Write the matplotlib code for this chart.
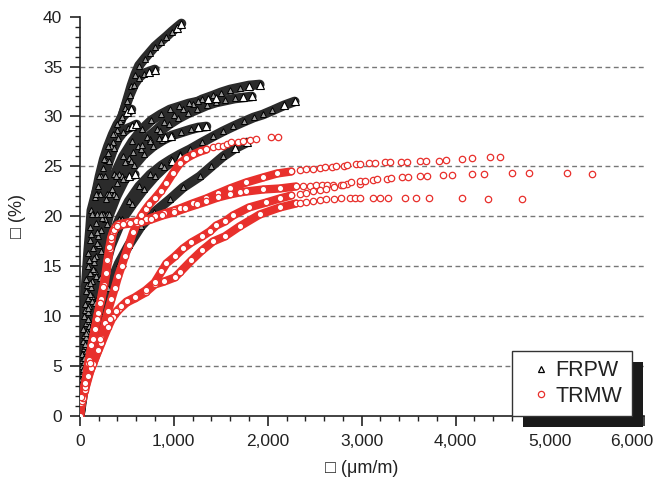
import matplotlib
matplotlib.use("Agg")
import matplotlib.pyplot as plt
from matplotlib.lines import Line2D
from matplotlib.patches import Rectangle
from matplotlib.ticker import FuncFormatter, MultipleLocator
from matplotlib.transforms import IdentityTransform, ScaledTranslation

# FRPW curves (strain, %), each ends with its last triangle
f1_x = [0, 5, 15, 26, 38, 52, 69, 88, 111, 124, 160, 195, 250, 300, 350, 400, 443, 500, 550, 590, 631, 690, 745, 800, 860, 922, 980, 1030, 1082]
f1_y = [0, 1.2, 3.7, 6.2, 8.7, 11.2, 13.7, 16.3, 18.9, 20.6, 21.9, 23.0, 24.8, 26.3, 27.4, 28.6, 29.7, 31.5, 33.1, 34.2, 35.1, 35.8, 36.4, 37.0, 37.5, 38.0, 38.5, 38.9, 39.3]
f2_x = [0, 3, 15, 29, 44, 59, 77, 97, 122, 145, 185, 230, 280, 330, 380, 430, 480, 530, 580, 630, 680, 740, 798]
f2_y = [0, 0.6, 3.1, 5.6, 8.1, 10.6, 13.1, 15.6, 18.2, 20.2, 22.2, 24.0, 25.6, 27.0, 28.2, 29.5, 30.8, 32.1, 33.2, 33.9, 34.3, 34.5, 34.7]
f3_x = [0, 11, 26, 43, 62, 84, 108, 136, 168, 180, 220, 265, 310, 360, 410, 460, 510, 560, 603]
f3_y = [0, 1.8, 4.3, 6.8, 9.3, 11.8, 14.3, 16.8, 19.3, 20.2, 22.2, 24.0, 25.5, 26.8, 27.8, 28.4, 28.8, 29.0, 29.2]
f4_x = [0, 10, 22, 36, 50, 66, 85, 108, 135, 170, 210, 255, 300, 350, 400, 450, 500, 550]
f4_y = [0, 2.5, 5, 7.5, 10, 12.5, 15, 17.6, 20.2, 22.2, 24.0, 25.7, 27.0, 28.2, 29.2, 29.9, 30.4, 30.7]
m1_x = [0, 8, 29, 51, 75, 102, 134, 173, 222, 260, 330, 420, 520, 620, 720, 820, 900, 1000, 1100, 1200, 1300, 1418, 1500, 1600, 1700, 1800, 1915]
m1_y = [0, 1.0, 3.5, 6.0, 8.5, 11.0, 13.5, 16.0, 18.6, 20.2, 22.2, 24.2, 25.8, 27.0, 27.9, 28.7, 29.4, 30.1, 30.7, 31.2, 31.7, 32.1, 32.4, 32.7, 32.9, 33.1, 33.2]
m2_x = [0, 18, 41, 67, 94, 126, 162, 210, 272, 285, 360, 450, 550, 650, 750, 850, 950, 1050, 1150, 1250, 1350, 1450, 1550, 1650, 1740, 1830]
m2_y = [0, 2.0, 4.5, 7.0, 9.5, 12.0, 14.5, 17.1, 19.7, 20.2, 22.2, 24.0, 25.5, 26.7, 27.7, 28.5, 29.2, 29.8, 30.3, 30.7, 31.1, 31.4, 31.6, 31.8, 31.9, 32.0]
m3_x = [0, 3, 21, 42, 64, 88, 117, 151, 192, 235, 295, 370, 460, 560, 660, 760, 860, 960, 1060, 1160, 1260, 1360, 1450]
m3_y = [0, 0.4, 2.9, 5.4, 7.9, 10.4, 12.9, 15.4, 18.0, 20.2, 22.2, 24.2, 26.0, 27.5, 28.7, 29.6, 30.2, 30.7, 31.0, 31.3, 31.5, 31.7, 31.8]
m4_x = [0, 15, 41, 69, 99, 134, 173, 223, 288, 315, 390, 480, 580, 680, 780, 880, 980, 1080, 1180, 1260, 1348]
m4_y = [0, 1.5, 4.0, 6.5, 9.0, 11.5, 14.0, 16.5, 19.2, 20.2, 22.0, 23.7, 25.1, 26.2, 27.0, 27.6, 28.1, 28.4, 28.7, 28.9, 29.0]
m5_x = [0, 18, 38, 60, 83, 110, 143, 184, 236, 245, 310, 390, 480, 570, 660, 750, 840, 910, 975]
m5_y = [0, 2.2, 4.7, 7.2, 9.7, 12.2, 14.7, 17.3, 19.8, 20.2, 22.2, 24.0, 25.4, 26.4, 27.1, 27.5, 27.8, 27.9, 28.0]
m6_x = [0, 6, 24, 42, 63, 86, 114, 147, 189, 225, 280, 340, 400, 460, 520, 585]
m6_y = [0, 0.8, 3.3, 5.8, 8.3, 10.8, 13.3, 15.8, 18.4, 20.2, 21.7, 22.7, 23.3, 23.7, 24.0, 24.2]
l1_x = [0, 16, 47, 81, 120, 166, 221, 288, 375, 420, 520, 630, 750, 870, 970, 1064, 1170, 1300, 1418, 1520, 1631, 1750, 1850, 1950, 2050, 2170, 2287]
l1_y = [0, 1.3, 3.8, 6.3, 8.8, 11.3, 13.8, 16.3, 18.7, 19.7, 21.5, 23.0, 24.2, 25.1, 25.7, 26.2, 26.7, 27.4, 28.0, 28.5, 29.0, 29.5, 29.9, 30.2, 30.6, 31.1, 31.5]
l2_x = [0, 5, 45, 92, 148, 215, 303, 415, 520, 650, 790, 957, 1100, 1277, 1400, 1525, 1650, 1777]
l2_y = [0, 0.3, 2.8, 5.3, 7.8, 10.3, 12.8, 15.3, 17.1, 19.0, 20.4, 21.7, 22.9, 24.0, 25.0, 26.0, 26.8, 27.4]
l3_x = [0, 24, 60, 98, 140, 192, 255, 330, 428, 450, 560, 680, 800, 900, 980, 1064]
l3_y = [0, 1.9, 4.4, 6.9, 9.4, 11.9, 14.4, 17.0, 19.2, 19.7, 21.2, 22.7, 24.0, 24.9, 25.5, 26.0]

# TRMW curves: dense part, then the sparse tail
r1_x = [0, 18, 53, 89, 140, 195, 230, 266, 300, 337, 372, 408, 445, 479, 520, 567, 610, 656, 700, 740, 798, 860, 922, 990, 1064, 1130, 1206, 1280, 1348]
r1_y = [0, 1.3, 2.6, 4.0, 5.2, 6.6, 7.8, 9.3, 10.5, 11.7, 12.8, 14.0, 15.0, 16.0, 17.1, 18.4, 19.3, 20.1, 20.7, 21.2, 21.8, 22.5, 23.3, 24.3, 25.3, 25.8, 26.2, 26.5, 26.7]
r1_tail_x = [1418, 1470, 1525, 1570, 1613, 1680, 1738, 1809, 1879, 2039, 2110]
r1_tail_y = [26.9, 27.0, 27.0, 27.2, 27.4, 27.4, 27.5, 27.6, 27.7, 27.9, 27.9]
r2_x = [0, 18, 53, 89, 125, 160, 195, 230, 260, 284, 300, 319, 337, 355, 380, 408, 460, 514, 600, 709, 800, 900, 1000, 1064, 1200, 1348, 1470, 1596, 1770, 1950, 2100, 2250]
r2_y = [0, 1.3, 2.9, 5.3, 7.1, 8.7, 10.3, 11.7, 13.1, 14.4, 15.5, 16.7, 17.6, 18.4, 18.9, 19.2, 19.3, 19.4, 19.5, 19.7, 20.0, 20.3, 20.6, 20.8, 21.3, 21.8, 22.3, 22.8, 23.4, 23.9, 24.3, 24.5]
r2_tail_x = [2340, 2411, 2482, 2553, 2606, 2688, 2723, 2809, 2848, 2936, 2986, 3078, 3138, 3245, 3305, 3422, 3482, 3617, 3681, 3823, 3901, 4071, 4170, 4369, 4475]
r2_tail_y = [24.65, 24.72, 24.78, 24.85, 24.92, 24.98, 25.02, 25.08, 25.12, 25.22, 25.22, 25.32, 25.35, 25.42, 25.42, 25.45, 25.48, 25.52, 25.55, 25.58, 25.62, 25.72, 25.82, 25.92, 25.92]
r3_x = [0, 20, 60, 100, 140, 180, 215, 250, 275, 295, 315, 335, 360, 400, 460, 540, 650, 760, 880, 1000, 1120, 1250, 1348, 1470, 1596, 1700, 1773, 1950, 2128, 2300]
r3_y = [0, 1.5, 3.3, 5.6, 7.7, 9.7, 11.3, 12.9, 14.3, 15.6, 16.9, 17.9, 18.6, 19.0, 19.2, 19.3, 19.4, 19.7, 20.1, 20.4, 20.8, 21.2, 21.5, 21.9, 22.2, 22.4, 22.5, 22.7, 22.8, 23.0]
r3_tail_x = [2380, 2450, 2518, 2580, 2630, 2700, 2777, 2848, 2986]
r3_tail_y = [23.05, 23.05, 23.1, 23.1, 23.1, 23.1, 23.15, 23.2, 23.2]
r4_x = [0, 30, 120, 230, 300, 350, 420, 500, 585, 700, 798, 900, 1011, 1064, 1188, 1300, 1418, 1543, 1700, 1915, 2128, 2300]
r4_y = [0, 1.8, 4.8, 7.3, 8.9, 9.9, 10.7, 11.4, 11.8, 12.4, 13.2, 13.5, 13.9, 14.4, 15.6, 16.6, 17.5, 18.0, 19.0, 20.2, 20.9, 21.3]
r4_tail_x = [2340, 2411, 2482, 2553, 2624, 2705, 2777, 2872, 2926, 2986, 3120, 3199, 3280, 3465, 3582, 3713, 4071, 4340, 4709]
r4_tail_y = [21.32, 21.48, 21.58, 21.65, 21.72, 21.75, 21.82, 21.85, 21.85, 21.85, 21.88, 21.88, 21.88, 21.88, 21.88, 21.85, 21.82, 21.78, 21.72]
r5_x = [0, 18, 106, 213, 319, 390, 443, 500, 585, 700, 798, 870, 922, 1011, 1100, 1188, 1300, 1383, 1454, 1543, 1631, 1800, 1986, 2128, 2250]
r5_y = [0, 1.9, 5.3, 7.7, 9.7, 10.5, 11.0, 11.5, 11.9, 12.6, 13.4, 14.5, 15.3, 16.0, 16.8, 17.4, 18.0, 18.5, 19.1, 19.5, 20.1, 20.9, 21.4, 21.8, 22.1]
r5_tail_x = [2340, 2411, 2482, 2553, 2624, 2705, 2800, 2890, 2979, 3032, 3120, 3163, 3269, 3316, 3433, 3493, 3617, 3695, 3865, 3957, 4174, 4301, 4599, 4777, 5181, 5450]
r5_tail_y = [22.2, 22.35, 22.5, 22.6, 22.75, 22.9, 23.15, 23.42, 23.55, 23.58, 23.65, 23.72, 23.78, 23.82, 23.95, 23.98, 24.05, 24.08, 24.15, 24.18, 24.28, 24.28, 24.32, 24.32, 24.32, 24.28]

x_ticks = [0, 1000, 2000, 3000, 4000, 5000, 6000]
y_ticks = [0, 5, 10, 15, 20, 25, 30, 35, 40]
grid_levels = [5, 10, 15, 20, 25, 30, 35]
x_label = "\u25a1 (\u03bcm/m)"
y_label = "\u25a1 (%)"
legend_labels = ["FRPW", "TRMW"]

BLACK = "#2b2b2b"
RED = "#e8302c"
FONT = ["Liberation Sans", "DejaVu Sans"]

plt.rcParams["font.family"] = FONT

fig = plt.figure(figsize=(6.54, 4.84), dpi=100)
ax = fig.add_axes([0.1219, 0.1395, 0.8623, 0.8264])

for y in grid_levels:
    ax.axhline(y, color="#777777", lw=1.0, ls=(0, (3.5, 2.5)), zorder=1)

frpw = [(f1_x, f1_y), (f2_x, f2_y), (f3_x, f3_y), (f4_x, f4_y),
        (m1_x, m1_y), (m2_x, m2_y), (m3_x, m3_y), (m4_x, m4_y),
        (m5_x, m5_y), (m6_x, m6_y), (l1_x, l1_y), (l2_x, l2_y), (l3_x, l3_y)]
for xs, ys in frpw:
    ax.plot(xs, ys, color=BLACK, lw=7, solid_capstyle="round", zorder=2)
for xs, ys in frpw:
    # grey-ish triangles along the packed band, white open ones at the ends
    ax.plot(xs[:-2], ys[:-2], ls="none", marker="^", ms=4.8, mfc="#9a9a9a", mec="black", mew=0.7, zorder=3)
    ax.plot(xs[-2:], ys[-2:], ls="none", marker="^", ms=5.2, mfc="white", mec="black", mew=0.8, zorder=3)

trmw = [(r1_x, r1_y), (r2_x, r2_y), (r3_x, r3_y), (r4_x, r4_y), (r5_x, r5_y)]
trmw_tail = [(r1_tail_x, r1_tail_y), (r2_tail_x, r2_tail_y), (r3_tail_x, r3_tail_y),
             (r4_tail_x, r4_tail_y), (r5_tail_x, r5_tail_y)]
for xs, ys in trmw:
    ax.plot(xs, ys, color=RED, lw=6, solid_capstyle="round", zorder=4)
for xs, ys in trmw + trmw_tail:
    ax.plot(xs, ys, ls="none", marker="o", ms=4.6, mfc="white", mec=RED, mew=0.9, zorder=4.5)

ax.set_xlim(0, 6000)
ax.set_ylim(0, 40)
ax.set_xticks(x_ticks)
ax.set_yticks(y_ticks)
ax.xaxis.set_minor_locator(MultipleLocator(200))
ax.yaxis.set_minor_locator(MultipleLocator(1))
ax.xaxis.set_major_formatter(FuncFormatter(lambda v, p: f"{int(v):,}"))

for side in ("top", "right"):
    ax.spines[side].set_visible(False)
for side in ("left", "bottom"):
    ax.spines[side].set_color("#222222")
    ax.spines[side].set_linewidth(1.2)

ax.tick_params(which="major", direction="out", length=7, width=1.2, color="#222222",
               labelsize=12.5, labelcolor="#222222", pad=5.5)
ax.tick_params(which="minor", direction="out", length=3.5, width=1.0, color="#222222")

ax.set_xlabel(x_label, fontsize=13, color="#222222")
ax.set_ylabel(y_label, fontsize=13, color="#222222")
ax.xaxis.set_label_coords(0.5, -0.11)
ax.yaxis.set_label_coords(-0.095, 0.5)

handles = [
    Line2D([], [], ls="none", marker="^", ms=4.5, mfc="white", mec="black", mew=0.9),
    Line2D([], [], ls="none", marker="o", ms=4.5, mfc="white", mec=RED, mew=0.9),
]
leg = ax.legend(handles, legend_labels, loc="lower right", bbox_to_anchor=(0.979, 0.0),
                borderaxespad=0, fontsize=15.5, frameon=True, fancybox=False,
                framealpha=1, edgecolor="#333333", handlelength=1.8, handletextpad=-0.25,
                borderpad=0.45, labelspacing=0.2, labelcolor="#222222")
leg.get_frame().set_linewidth(1.0)
leg.set_zorder(6)

fig.canvas.draw()
bb = leg.get_window_extent()
shadow = Rectangle((bb.x0 + 11, bb.y0 - 11), bb.width, bb.height, transform=IdentityTransform(),
                   facecolor="#1a1a1a", edgecolor="none", clip_on=False, zorder=5.9)
ax.add_artist(shadow)

# the last x label sits flush with the right edge, as in the reference
last = ax.get_xticklabels()[-1]
last.set_horizontalalignment("right")
last.set_transform(last.get_transform() + ScaledTranslation(10 / 100, 0, fig.dpi_scale_trans))

fig.savefig("out.png", dpi=100)
